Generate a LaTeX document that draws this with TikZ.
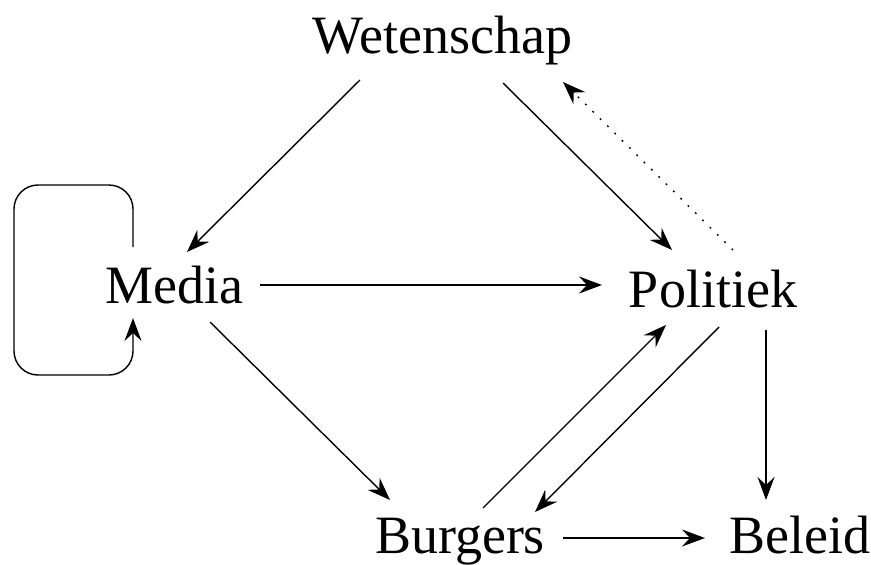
\documentclass[tikz,border=0pt]{standalone}
\usepackage{fontspec}
\setmainfont{Liberation Serif}
\usetikzlibrary{arrows.meta}
\begin{document}
\begin{tikzpicture}[x=1pt,y=-1pt,
  lbl/.style={anchor=base,inner sep=0pt,font=\fontsize{54}{60}\selectfont},
  conn/.style={line width=1.4pt,-{Stealth[length=23pt,width=17pt,inset=8pt]}},
  dotconn/.style={conn,dash pattern=on 1.8pt off 8.5pt}]
\useasboundingbox (0,0) rectangle (871,565);
\node[lbl] (wet) at (442.5,53) {Wetenschap};
\node[lbl] (med) at (174,303) {Media};
\node[lbl] (pol) at (713,307) {Politiek};
\node[lbl] (bur) at (460,553) {Burgers};
\node[lbl] (bel) at (800,553) {Beleid};
% arrows
\draw[conn] ([shift={(-82.5,27)}]wet.base) -- ([shift={(13,-51)}]med.base);
\draw[conn] ([shift={(60.5,30)}]wet.base) -- ([shift={(-41,-57)}]pol.base);
\draw[dotconn] ([shift={(20,-57)}]pol.base) -- ([shift={(120.5,29)}]wet.base);
\draw[conn] ([shift={(86,-18)}]med.base) -- ([shift={(-111,-22)}]pol.base);
\draw[conn] ([shift={(36,19)}]med.base) -- ([shift={(-70,-53)}]bur.base);
\draw[conn] ([shift={(23,-45)}]bur.base) -- ([shift={(-47,18)}]pol.base);
\draw[conn] ([shift={(6,20)}]pol.base) -- ([shift={(75,-41)}]bur.base);
\draw[conn] ([shift={(103,-15)}]bur.base) -- ([shift={(-95,-15)}]bel.base);
\draw[conn] ([shift={(53,23)}]pol.base) -- ([shift={(-34,-53)}]bel.base);
% self loop on Media
\draw[conn,rounded corners=24pt] ([shift={(-41,-56)}]med.base) -- ++(0,-62) -- ++(-119,0) -- ++(0,190) -- ++(119,0) -- ([shift={(-41,15)}]med.base);
\end{tikzpicture}
\end{document}
